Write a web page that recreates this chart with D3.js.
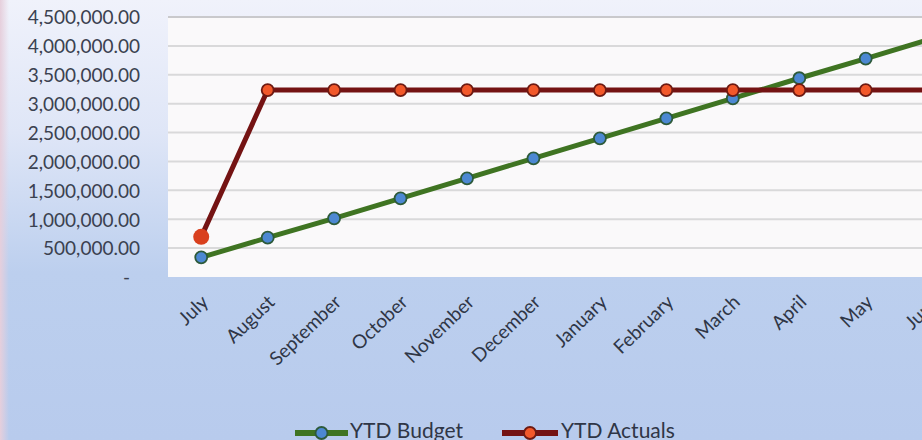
<!DOCTYPE html>
<html>
<head>
<meta charset="utf-8">
<script src="https://cdn.jsdelivr.net/npm/d3@7"></script>
<style>
  html, body { margin: 0; padding: 0; overflow: hidden; background: #b6caed; }
  svg { display: block; }
</style>
</head>
<body>
<svg id="chart" width="922" height="440"></svg>
<script>
// ---- data ----
const months = ["July", "August", "September", "October", "November", "December",
                "January", "February", "March", "April", "May", "June"];
const ytdBudget = [341000, 680000, 1016000, 1362000, 1708000, 2054000,
                   2400000, 2746000, 3090000, 3440000, 3780000, 4125000];
const ytdActuals = [695000, 3235000, 3235000, 3235000, 3235000, 3235000,
                    3235000, 3235000, 3235000, 3235000, 3235000, 3235000];
const yTicks = [0, 500000, 1000000, 1500000, 2000000, 2500000, 3000000, 3500000, 4000000, 4500000];
const seriesNames = ["YTD Budget", "YTD Actuals"];

// ---- layout ----
const W = 922, H = 440;
const plotLeft = 168, plotTop = 17, plotBottom = 277, band = 66.45;
const svg = d3.select("#chart");

// background gradient
const defs = svg.append("defs");
const bg = defs.append("linearGradient").attr("id", "bg").attr("x1", 0).attr("y1", 0).attr("x2", 0).attr("y2", 1);
bg.append("stop").attr("offset", "0%").attr("stop-color", "#f0f2fb");
bg.append("stop").attr("offset", "30%").attr("stop-color", "#dfe6f7");
bg.append("stop").attr("offset", "62%").attr("stop-color", "#bccfee");
bg.append("stop").attr("offset", "100%").attr("stop-color", "#b8cbed");
svg.append("rect").attr("width", W).attr("height", H).attr("fill", "url(#bg)");
// scan edge on the left
const edge = defs.append("linearGradient").attr("id", "edge").attr("x1", 0).attr("y1", 0).attr("x2", 1).attr("y2", 0);
edge.append("stop").attr("offset", "0%").attr("stop-color", "#e6cfdc");
edge.append("stop").attr("offset", "100%").attr("stop-color", "#e6cfdc").attr("stop-opacity", 0);
svg.append("rect").attr("x", 0).attr("y", 0).attr("width", 9).attr("height", H).attr("fill", "url(#edge)");

// ---- scales ----
const x = d3.scaleBand().domain(months).range([plotLeft, plotLeft + band * months.length]).padding(0);
const y = d3.scaleLinear().domain([0, 4500000]).range([plotBottom, plotTop]);
const cx = m => x(m) + x.bandwidth() / 2;

// plot area
svg.append("rect")
  .attr("x", plotLeft).attr("y", plotTop)
  .attr("width", x.range()[1] - plotLeft).attr("height", plotBottom - plotTop)
  .attr("fill", "#faf9fa");

// gridlines
svg.append("g").selectAll("line").data(yTicks.filter(d => d > 0)).join("line")
  .attr("x1", plotLeft).attr("x2", x.range()[1])
  .attr("y1", d => y(d)).attr("y2", d => y(d))
  .attr("stroke", d => d === 4500000 ? "#c9c9cc" : "#d9d9da").attr("stroke-width", 2);

// y axis
const fmt = d3.format(",.2f");
const yAxis = d3.axisLeft(y).tickValues(yTicks).tickSize(0).tickPadding(28)
  .tickFormat(d => d === 0 ? "-" : fmt(d));
const yG = svg.append("g").attr("transform", `translate(${plotLeft},0)`).call(yAxis);
yG.select(".domain").remove();
yG.selectAll("text")
  .attr("font-family", "Lato, 'Open Sans', sans-serif")
  .attr("font-size", "19px")
  .attr("fill", "#3b4150")
  .attr("dy", "0.36em")
  .attr("x", d => d === 0 ? -38 : -28);

// x axis
const xAxis = d3.axisBottom(x).tickSize(0).tickPadding(0);
const xG = svg.append("g").attr("transform", `translate(0,${plotBottom})`).call(xAxis);
xG.select(".domain").remove();
xG.selectAll("text")
  .attr("font-family", "Lato, 'Open Sans', sans-serif")
  .attr("font-size", "19px")
  .attr("fill", "#2f3646")
  .attr("text-anchor", "end")
  .attr("dy", null)
  .attr("y", 0)
  .attr("transform", "translate(5,23) rotate(-44)")
  .attr("dominant-baseline", "middle");

// ---- lines ----
const budgetData = months.map((m, i) => ({ m, v: ytdBudget[i] }));
const actualData = months.map((m, i) => ({ m, v: ytdActuals[i] }));
const line = d3.line().x(d => cx(d.m)).y(d => y(d.v));

svg.append("path").datum(budgetData).attr("d", line)
  .attr("fill", "none").attr("stroke", "#3f7422").attr("stroke-width", 5).attr("stroke-linejoin", "round");
svg.append("path").datum(actualData).attr("d", line)
  .attr("fill", "none").attr("stroke", "#741313").attr("stroke-width", 5).attr("stroke-linejoin", "round");

// markers
svg.append("g").selectAll("circle").data(budgetData).join("circle")
  .attr("cx", d => cx(d.m)).attr("cy", d => y(d.v)).attr("r", 6)
  .attr("fill", "#4c88d2").attr("stroke", "#2d5a3a").attr("stroke-width", 1.8);
svg.append("g").selectAll("circle").data(actualData).join("circle")
  .attr("cx", d => cx(d.m)).attr("cy", d => y(d.v))
  .attr("r", (d, i) => i === 0 ? 8 : 6)
  .attr("fill", (d, i) => i === 0 ? "#d9401e" : "#f2582a")
  .attr("stroke", (d, i) => i === 0 ? "none" : "#6e1a12").attr("stroke-width", 1.8);

// ---- legend ----
const legend = [
  { name: seriesNames[0], line: "#3f7422", fill: "#4c88d2", stroke: "#2d5a3a", x0: 295, x1: 348, tx: 350 },
  { name: seriesNames[1], line: "#741313", fill: "#f2582a", stroke: "#6e1a12", x0: 502, x1: 558, tx: 561 }
];
const lg = svg.append("g");
legend.forEach(L => {
  const ly = 433;
  lg.append("line").attr("x1", L.x0).attr("x2", L.x1).attr("y1", ly).attr("y2", ly)
    .attr("stroke", L.line).attr("stroke-width", 6);
  lg.append("circle").attr("cx", (L.x0 + L.x1) / 2).attr("cy", ly).attr("r", 6)
    .attr("fill", L.fill).attr("stroke", L.stroke).attr("stroke-width", 1.8);
  lg.append("text").attr("x", L.tx).attr("y", 438)
    .attr("font-family", "Lato, 'Open Sans', sans-serif").attr("font-size", "21px")
    .attr("fill", "#2f3646").text(L.name);
});
</script>
</body>
</html>
